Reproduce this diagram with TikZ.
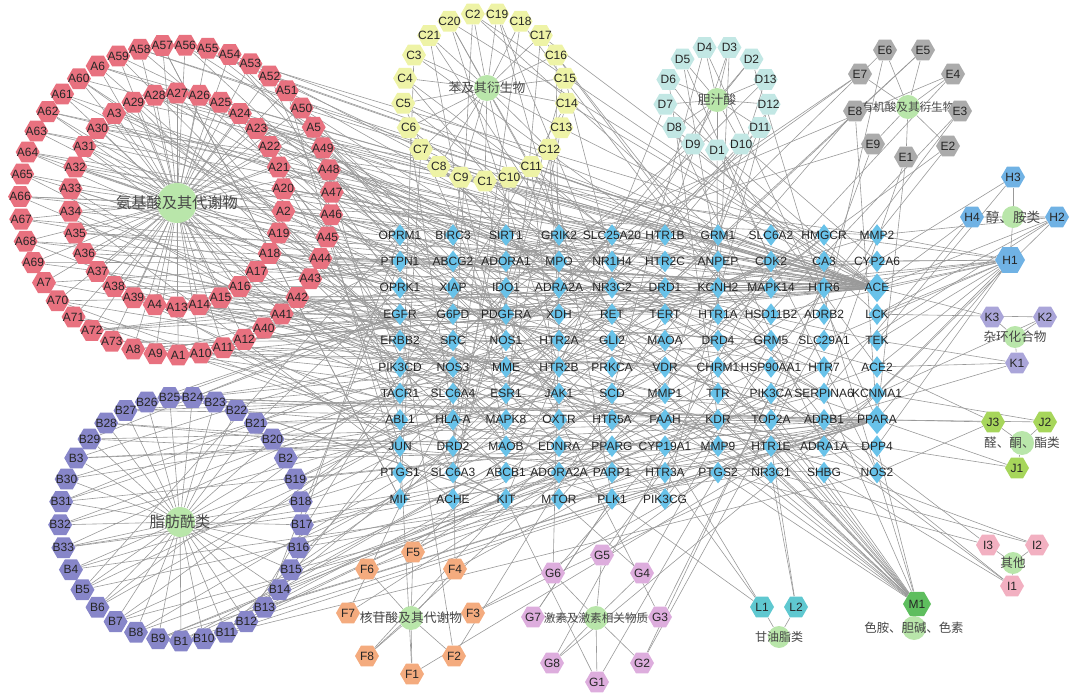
\documentclass[tikz,border=0pt]{standalone}
\usepackage{fontspec}
\setmainfont{Liberation Sans}
\newfontfamily\cjk{Noto Sans CJK SC}
\usetikzlibrary{shapes.geometric}
\pgfdeclarelayer{background}
\pgfsetlayers{background,main}
\definecolor{colA}{HTML}{E8717F}
\definecolor{colB}{HTML}{8786C9}
\definecolor{colC}{HTML}{EEF3A6}
\definecolor{colD}{HTML}{C2E7E4}
\definecolor{colE}{HTML}{ABABAB}
\definecolor{colF}{HTML}{F4AB7E}
\definecolor{colG}{HTML}{DDADDD}
\definecolor{colH}{HTML}{70B2E4}
\definecolor{colI}{HTML}{F2B0C1}
\definecolor{colJ}{HTML}{A7D65B}
\definecolor{colK}{HTML}{AAA5D9}
\definecolor{colL}{HTML}{5FC8D0}
\definecolor{colM}{HTML}{5EBE5E}
\definecolor{colT}{HTML}{68C2E9}
\definecolor{colHub}{HTML}{B9E6AA}
\newcommand{\zw}[1]{\makebox[0pt]{#1}}

\begin{document}
\begin{tikzpicture}[x=0.5pt,y=-0.5pt,
    % 代謝物節點:六邊形
    metab/.style={regular polygon, regular polygon sides=6, minimum size=12pt,
        inner sep=0pt, text=black!85, font=\fontsize{6}{7}\selectfont},
    % 靶點節點:菱形
    target/.style={diamond, fill=colT, inner sep=0pt, text=black!85,
        font=\fontsize{6}{7}\selectfont},
    % 類別中心:綠色圓
    hub/.style={circle, fill=colHub, inner sep=0pt, text=black!72},
    % 連線
    link/.style={draw=black!40, line width=0.3pt}
]
\useasboundingbox (0,0) rectangle (1080,699);

% ==========================
% 中間:靶點網格
% ==========================
\foreach \g [count=\k from 0] in {OPRM1,BIRC3,SIRT1,GRIK2,SLC25A20,HTR1B,GRM1,SLC6A2,HMGCR,MMP2,
    PTPN1,ABCG2,ADORA1,MPO,NR1H4,HTR2C,ANPEP,CDK2,CA3,CYP2A6,
    OPRK1,XIAP,IDO1,ADRA2A,NR3C2,DRD1,KCNH2,MAPK14,HTR6,ACE,
    EGFR,G6PD,PDGFRA,XDH,RET,TERT,HTR1A,HSD11B2,ADRB2,LCK,
    ERBB2,SRC,NOS1,HTR2A,GLI2,MAOA,DRD4,GRM5,SLC29A1,TEK,
    PIK3CD,NOS3,MME,HTR2B,PRKCA,VDR,CHRM1,HSP90AA1,HTR7,ACE2,
    TACR1,SLC6A4,ESR1,JAK1,SCD,MMP1,TTR,PIK3CA,SERPINA6,KCNMA1,
    ABL1,HLA-A,MAPK8,OXTR,HTR5A,FAAH,KDR,TOP2A,ADRB1,PPARA,
    JUN,DRD2,MAOB,EDNRA,PPARG,CYP19A1,MMP9,HTR1E,ADRA1A,DPP4,
    PTGS1,SLC6A3,ABCB1,ADORA2A,PARP1,HTR3A,PTGS2,NR3C1,SHBG,NOS2,
    MIF,ACHE,KIT,MTOR,PLK1,PIK3CG} {
    \pgfmathtruncatemacro\r{\k/10}
    \pgfmathtruncatemacro\c{\k-10*\r}
    \pgfmathsetmacro\tw{(\k==29||\k==79) ? 12 : 8.5}
    \pgfmathsetmacro\th{(\k==29||\k==79) ? 14.5 : 11}
    \node[target, alias=t\k, minimum width=\tw pt, minimum height=\th pt]
        (\g) at ({400+53*\c},{235+26.4*\r}) {\zw{\g}};
}

% ==========================
% 左上:氨基酸及其代謝物
% ==========================
\node[hub, minimum size=20pt, font=\cjk\fontsize{7.6}{8}\selectfont] (hubA) at (177,203) {\zw{氨基酸及其代谢物}};
\foreach \n [count=\k from 0] in {27,26,25,24,23,22,21,20,2,19,18,17,16,15,14,13,4,39,38,37,36,35,34,33,32,31,30,3,29,28}
    \node[metab, fill=colA] (A\n) at ({177+107*cos(90-12*\k)},{200-107*sin(90-12*\k)}) {\zw{A\n}};
\foreach \n [count=\k from 0] in {57,56,55,54,53,52,51,50,5,49,48,47,46,45,44,43,42,41,40,12,11,10,1,9,8,73,72,71,70,7,69,68,67,66,65,64,63,62,61,60,6,59,58}
    \node[metab, fill=colA] (A\n) at ({176+156*cos(95-8.372*\k)},{200-155*sin(95-8.372*\k)}) {\zw{A\n}};

% ==========================
% 左下:脂肪酰類
% ==========================
\node[hub, minimum size=15pt, font=\cjk\fontsize{7.6}{8}\selectfont] (hubB) at (180,522) {\zw{脂肪酰类}};
\foreach \n [count=\k from 0] in {25,24,23,22,21,20,2,19,18,17,16,15,14,13,12,11,10,1,9,8,7,6,5,4,33,32,31,30,3,29,28,27,26}
    \node[metab, fill=colB] (B\n) at ({181+121*cos(95.45-10.909*\k)},{519-122*sin(95.45-10.909*\k)}) {\zw{B\n}};

% ==========================
% 上:苯及其衍生物
% ==========================
\node[hub, minimum size=13pt, font=\cjk\fontsize{6.4}{7}\selectfont] (hubC) at (487,88) {\zw{苯及其衍生物}};
\foreach \n [count=\k from 0] in {2,19,18,17,16,15,14,13,12,11,10,1,9,8,7,6,5,4,3,21,20}
    \node[metab, fill=colC] (C\n) at ({485+82*cos(98.57-17.143*\k)},{97-84*sin(98.57-17.143*\k)}) {\zw{C\n}};

% ==========================
% 上:膽汁酸
% ==========================
\node[hub, minimum size=12pt, font=\cjk\fontsize{6.4}{7}\selectfont] (hubD) at (717,100) {\zw{胆汁酸}};
\foreach \n [count=\k from 0] in {1,9,8,7,6,5,4,3,2,13,12,11,10}
    \node[metab, fill=colD] (D\n) at ({717+52*cos(-90-27.69*\k)},{98-52*sin(-90-27.69*\k)}) {\zw{D\n}};

% ==========================
% 右上:有機酸及其衍生物
% ==========================
\node[hub, minimum size=12pt, font=\cjk\fontsize{5.8}{6}\selectfont] (hubE) at (908,107) {\zw{有机酸及其衍生物}};
\foreach \n/\x/\y in {1/906/157, 2/948/146, 3/960/111, 4/953/74, 5/923/50, 6/885/50, 7/860/74, 8/855/111, 9/873/144}
    \node[metab, fill=colE] (E\n) at (\x,\y) {\zw{E\n}};

% ==========================
% 右側小類
% ==========================
\node[hub, minimum size=11pt, font=\cjk\fontsize{6.8}{7}\selectfont] (hubH) at (1013,217) {\zw{醇、胺类}};
\node[metab, fill=colH, minimum size=15pt] (H1) at (1010,260) {\zw{H1}};
\foreach \n/\x/\y in {2/1057/217, 3/1013/177, 4/972/217}
    \node[metab, fill=colH] (H\n) at (\x,\y) {\zw{H\n}};

\node[hub, minimum size=11pt, font=\cjk\fontsize{6.3}{7}\selectfont] (hubK) at (1015,337) {\zw{杂环化合物}};
\foreach \n/\x/\y in {1/1017/363, 2/1045/317, 3/992/317}
    \node[metab, fill=colK] (K\n) at (\x,\y) {\zw{K\n}};

\node[hub, minimum size=12pt, font=\cjk\fontsize{6.3}{7}\selectfont] (hubJ) at (1022,443) {\zw{醛、酮、酯类}};
\foreach \n/\x/\y in {1/1017/468, 2/1045/422, 3/993/422}
    \node[metab, fill=colJ] (J\n) at (\x,\y) {\zw{J\n}};

\node[hub, minimum size=11pt, font=\cjk\fontsize{6.3}{7}\selectfont] (hubI) at (1013,563) {\zw{其他}};
\foreach \n/\x/\y in {1/1012/586, 2/1037/545, 3/988/545}
    \node[metab, fill=colI] (I\n) at (\x,\y) {\zw{I\n}};

\node[hub, minimum size=12pt, font=\cjk\fontsize{6.2}{7}\selectfont] (hubM) at (914,628) {\zw{色胺、胆碱、色素}};
\node[metab, fill=colM, minimum size=14pt] (M1) at (917,604) {\zw{M1}};

\node[hub, minimum size=11pt, font=\cjk\fontsize{6}{7}\selectfont] (hubL) at (779,637) {\zw{甘油脂类}};
\foreach \n/\x/\y in {1/762/607, 2/796/607}
    \node[metab, fill=colL] (L\n) at (\x,\y) {\zw{L\n}};

% ==========================
% 下:核苷酸、激素
% ==========================
\node[hub, minimum size=12pt, font=\cjk\fontsize{6.4}{7}\selectfont] (hubF) at (411,618) {\zw{核苷酸及其代谢物}};
\foreach \n/\x/\y in {1/412/674, 2/454/656, 3/473/613, 4/455/569, 5/413/552, 6/367/569, 7/348/613, 8/367/656}
    \node[metab, fill=colF] (F\n) at (\x,\y) {\zw{F\n}};

\node[hub, minimum size=12pt, font=\cjk\fontsize{5.8}{6}\selectfont] (hubG) at (596,618) {\zw{激素及激素相关物质}};
\foreach \n/\x/\y in {1/597/682, 2/642/663, 3/660/617, 4/642/573, 5/602/555, 6/553/573, 7/533/617, 8/552/663}
    \node[metab, fill=colG] (G\n) at (\x,\y) {\zw{G\n}};

% ==========================
% 連線(放在底層)
% ==========================
\begin{pgfonlayer}{background}
    % 1. 類別中心 -> 代謝物
    \foreach \i in {1,...,73} \draw[link] (hubA) -- (A\i);
    \foreach \i in {1,...,33} \draw[link] (hubB) -- (B\i);
    \foreach \i in {1,...,21} \draw[link] (hubC) -- (C\i);
    \foreach \i in {1,...,13} \draw[link] (hubD) -- (D\i);
    \foreach \i in {1,...,9}  \draw[link] (hubE) -- (E\i);
    \foreach \i in {1,...,8}  {\draw[link] (hubF) -- (F\i); \draw[link] (hubG) -- (G\i);}
    \foreach \i in {1,...,4}  \draw[link] (hubH) -- (H\i);
    \foreach \i in {1,...,3}  {\draw[link] (hubK) -- (K\i); \draw[link] (hubJ) -- (J\i); \draw[link] (hubI) -- (I\i);}
    \foreach \i in {1,2} \draw[link] (hubL) -- (L\i);
    \draw[link] (hubM) -- (M1);

    % 2. 代謝物 -> 靶點
    \foreach \i in {1,...,73} {
        \pgfmathtruncatemacro\p{mod(37*\i+5,106)}
        \pgfmathtruncatemacro\q{mod(23*\i+61,106)}
        \draw[link] (A\i) -- (t\p);
        \draw[link] (A\i) -- (t\q);
    }
    \foreach \i in {2,4,...,72} \draw[link] (A\i) -- (ACE);
    \foreach \i in {1,...,33} {
        \pgfmathtruncatemacro\p{mod(41*\i+7,106)}
        \pgfmathtruncatemacro\q{mod(17*\i+29,106)}
        \draw[link] (B\i) -- (t\p);
        \draw[link] (B\i) -- (t\q);
    }
    \foreach \i in {1,3,...,33} \draw[link] (B\i) -- (PPARA);
    \foreach \i in {1,...,21} {
        \pgfmathtruncatemacro\p{mod(29*\i+3,106)}
        \pgfmathtruncatemacro\q{mod(31*\i+50,106)}
        \draw[link] (C\i) -- (t\p);
        \draw[link] (C\i) -- (t\q);
    }
    \foreach \i in {2,5,...,20} \draw[link] (C\i) -- (ACE);
    \foreach \i in {1,...,13} {
        \pgfmathtruncatemacro\p{mod(43*\i+13,106)}
        \pgfmathtruncatemacro\q{mod(59*\i+40,106)}
        \draw[link] (D\i) -- (t\p);
        \draw[link] (D\i) -- (t\q);
    }
    \foreach \i in {1,...,9} {
        \pgfmathtruncatemacro\p{mod(47*\i+21,106)}
        \pgfmathtruncatemacro\q{mod(13*\i+66,106)}
        \draw[link] (E\i) -- (t\p);
        \draw[link] (E\i) -- (t\q);
    }
    \foreach \i in {1,...,8} {
        \pgfmathtruncatemacro\p{mod(61*\i+19,106)}
        \pgfmathtruncatemacro\q{mod(67*\i+2,106)}
        \pgfmathtruncatemacro\s{mod(71*\i+31,106)}
        \pgfmathtruncatemacro\u{mod(19*\i+77,106)}
        \draw[link] (F\i) -- (t\p);
        \draw[link] (F\i) -- (t\q);
        \draw[link] (G\i) -- (t\s);
        \draw[link] (G\i) -- (t\u);
    }
    \foreach \j in {29,28,19,9,39,49,79,59,27,18,37,48,69,89,8,26}
        \draw[link] (H1) -- (t\j);
    \foreach \j in {29,39,9,58,88} \draw[link] (H2) -- (t\j);
    \foreach \j in {19,49} \draw[link] (H3) -- (t\j);
    \foreach \j in {29,68} \draw[link] (H4) -- (t\j);
    \foreach \j in {59,49,78} \draw[link] (K1) -- (t\j);
    \foreach \j in {39,69} \draw[link] (K2) -- (t\j);
    \foreach \j in {29} \draw[link] (K3) -- (t\j);
    \foreach \j in {79,89} \draw[link] (J1) -- (t\j);
    \foreach \j in {79,69} \draw[link] (J2) -- (t\j);
    \foreach \j in {79,99,59} \draw[link] (J3) -- (t\j);
    \foreach \j in {88,98,67} \draw[link] (I1) -- (t\j);
    \foreach \j in {87,97} \draw[link] (I2) -- (t\j);
    \foreach \j in {78,96} \draw[link] (I3) -- (t\j);
    \foreach \j in {96,86,76,66,56,46,45,35,55,65,75,77,87,97,98,99,89,68}
        \draw[link] (M1) -- (t\j);
    \foreach \j in {95,85,104} \draw[link] (L1) -- (t\j);
    \foreach \j in {97,87} \draw[link] (L2) -- (t\j);
\end{pgfonlayer}
\end{tikzpicture}
\end{document}
